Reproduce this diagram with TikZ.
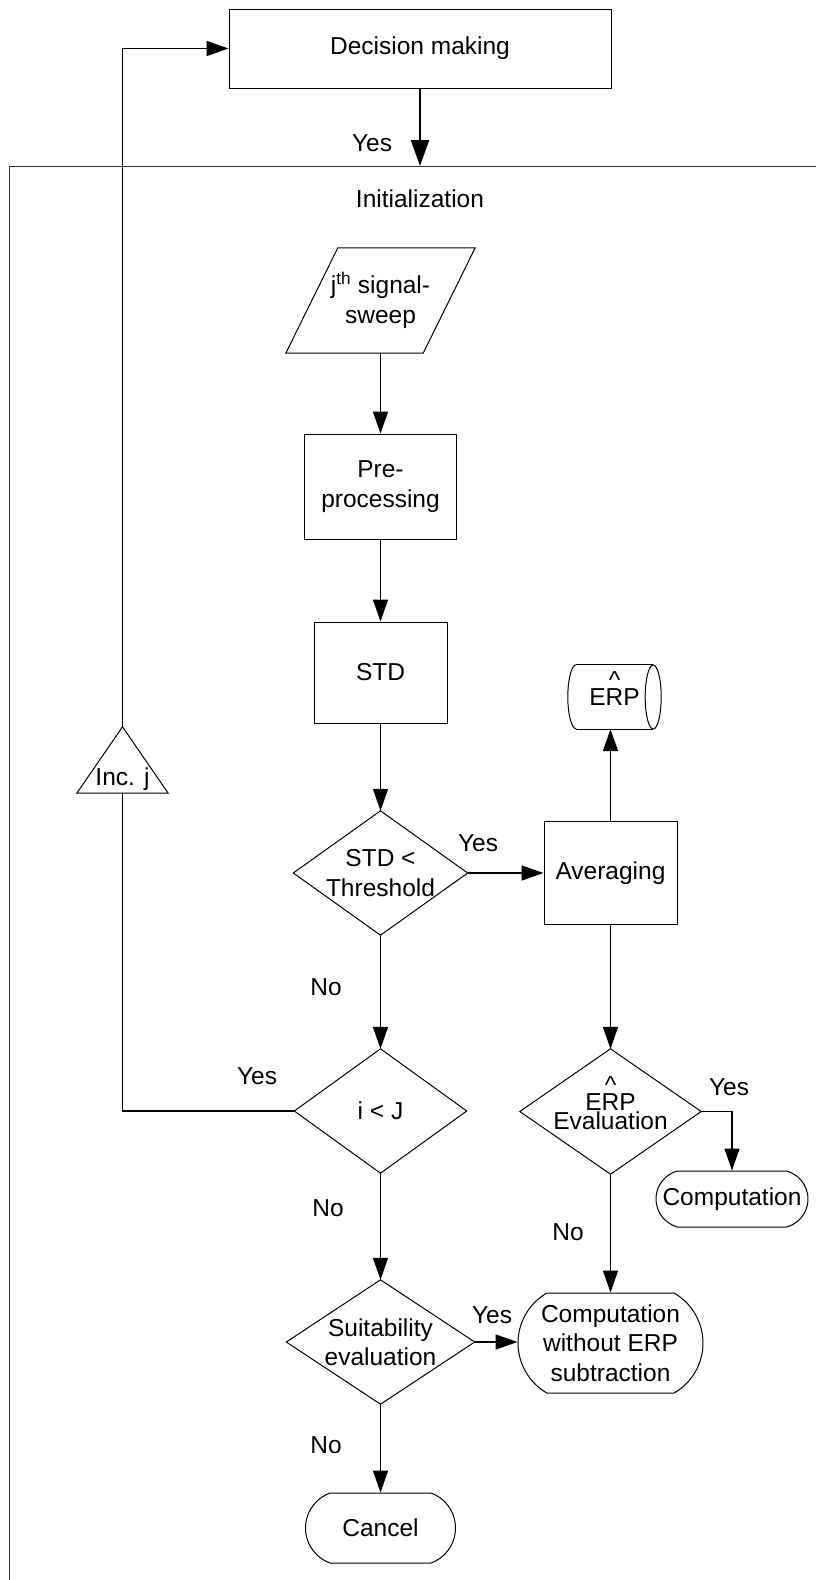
\documentclass[tikz,border=0pt]{standalone}
\usepackage{fontspec}
\setmainfont{Liberation Sans}
\usetikzlibrary{arrows.meta,calc,shapes.misc}

% caret set above a letter without changing the line height
\newcommand\hatted[1]{\ooalign{#1\cr\hidewidth\smash{\raisebox{0.68em}{\textasciicircum}}\hidewidth\cr}}
\newcommand\erphat{E\hatted{R}P}

\begin{document}
\begin{tikzpicture}[x=1pt,y=-1pt,
  every node/.style={font=\fontsize{24.5pt}{29.5pt}\selectfont},
  box/.style={draw, line width=1pt, inner sep=0pt, align=center},
  ghost/.style={inner sep=0pt, align=center},
  term/.style={draw, line width=1pt, rounded rectangle, rounded rectangle arc length=140, inner sep=0pt, align=center},
  outline/.style={line width=1pt},
  link/.style={line width=1.5pt},
  flow/.style={link, -{Triangle[length=22pt,width=15pt]}},
]
\useasboundingbox (0,0) rectangle (816,1580);

% outer frame of the initialization stage
\draw[outline, draw=black!80] (816,166) -- (9,166) -- (9,1580);
\coordinate (ctop) at (420,166);
\node[ghost] (init) at (420,199) {Initialization};

% top block
\node[box, minimum width=382pt, minimum height=79pt] (dec) at (420,48.5) {Decision making};

% input sweep (parallelogram)
\node[ghost, minimum width=189pt, minimum height=105pt] (sweep) at (380.5,300.5) {j\textsuperscript{th} signal-\\sweep};
\draw[outline] ($(sweep.north west)+(52,0)$) -- (sweep.north east) -- ($(sweep.south east)+(-52,0)$) -- (sweep.south west) -- cycle;

\node[box, minimum width=152pt, minimum height=105pt] (pre) at (380.5,486.5) {Pre-\\processing};
\node[box, minimum width=133pt, minimum height=101pt] (std) at (380.5,672.5) {STD};

% decisions
\node[ghost, minimum width=174pt, minimum height=124pt] (d1) at (380.5,873) {STD <\\Threshold};
\draw[outline] (d1.north) -- (d1.east) -- (d1.south) -- (d1.west) -- cycle;

\node[ghost, minimum width=172pt, minimum height=124pt] (ij) at (380.5,1111) {i < J};
\draw[outline] (ij.north) -- (ij.east) -- (ij.south) -- (ij.west) -- cycle;

\node[ghost, minimum width=188pt, minimum height=124pt] (suit) at (380.5,1342) {Suitability\\evaluation};
\draw[outline] (suit.north) -- (suit.east) -- (suit.south) -- (suit.west) -- cycle;

\node[box, minimum width=133pt, minimum height=103pt] (avg) at (610.5,873) {Averaging};

% stored ERP estimate (horizontal cylinder)
\node[ghost, minimum width=93pt, minimum height=64pt] (erp) at (614.5,697) {\erphat};
\draw[outline] ([xshift=8.5pt]erp.north west) -- ([xshift=-8pt]erp.north east);
\draw[outline] ([xshift=8.5pt]erp.south west) -- ([xshift=-8pt]erp.south east);
\draw[outline] ([xshift=-8pt]erp.east) ellipse [x radius=8pt, y radius=32pt];
\draw[outline] ([xshift=8.5pt]erp.north west) arc [start angle=90, end angle=270, x radius=8.5pt, y radius=32pt];

\node[ghost, minimum width=181pt, minimum height=125pt] (ee) at (610.5,1111.5) {\erphat\\[-11pt]Evaluation};
\draw[outline] (ee.north) -- (ee.east) -- (ee.south) -- (ee.west) -- cycle;

% terminals
\node[term, rounded rectangle arc length=150, minimum width=152pt, minimum height=56pt] (comp) at (732,1199) {Computation};
\node[term, rounded rectangle arc length=120, minimum width=185pt, minimum height=100pt] (cwo) at (610.5,1343) {Computation\\without ERP\\subtraction};
\node[term, minimum width=150pt, minimum height=70pt] (cancel) at (380.5,1528) {Cancel};

% increment marker
\node[ghost, minimum width=91pt, minimum height=66pt] (incj) at (122.5,760) {};
\draw[outline] (incj.south west) -- (incj.north) -- (incj.south east) -- cycle;
\node[anchor=base] (incjtext) at ([yshift=8pt]incj.south) {Inc. j};

% connectors
\draw[link, line width=2.2pt, -{Triangle[length=26pt,width=18pt]}] (dec.south) -- (ctop);
\draw[flow] (sweep.south) -- (pre.north);
\draw[flow] (pre.south) -- (std.north);
\draw[flow] (std.south) -- (d1.north);
\draw[flow] (d1.east) -- (d1.east -| avg.west);
\draw[flow] (avg.north) -- (avg.north |- erp.south);
\draw[flow] (d1.south) -- (ij.north);
\draw[flow] (avg.south) -- (ee.north);
\draw[flow] (ee.east) -| (comp.north);
\draw[flow] (ee.south) -- (cwo.north);
\draw[flow] (ij.south) -- (suit.north);
\draw[flow] (suit.east) -- (suit.east -| cwo.west);
\draw[flow] (suit.south) -- (cancel.north);
\draw[link] (ij.west) -| (incj.south);
\draw[flow] (incj.north) |- (dec.west);

% branch labels
\node (yesdec) at (372,143) {Yes};
\node (yesd1) at (478,843) {Yes};
\node (nod1) at (326,987) {No};
\node (yesij) at (257,1076) {Yes};
\node (noij) at (328,1208) {No};
\node (yesee) at (729,1087) {Yes};
\node (noee) at (568,1232) {No};
\node (yessuit) at (492,1315) {Yes};
\node (nosuit) at (326,1445) {No};
\end{tikzpicture}
\end{document}
